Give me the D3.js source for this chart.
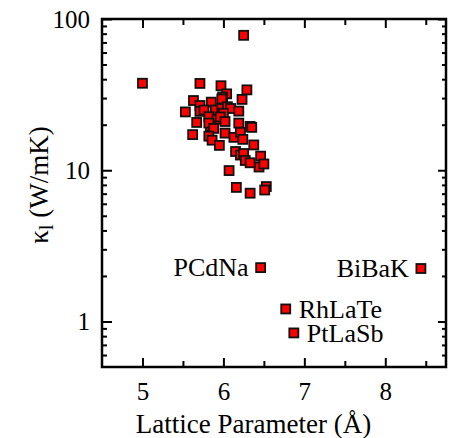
<!DOCTYPE html>
<html>
<head>
<meta charset="utf-8">
<script src="https://cdn.jsdelivr.net/npm/d3@7"></script>
<style>
  html, body { margin: 0; padding: 0; background: #fff; }
  text { font-family: "Liberation Serif", "Times New Roman", serif; fill: #000; }
</style>
</head>
<body>
<svg id="chart" width="449" height="438"></svg>
<script>
// unlabelled compounds: lattice parameter (Å) and kappa_l (W/mK)
const latticeParam = [
  6.25, 5.00, 5.71, 5.97, 6.04, 6.29, 5.99, 6.23, 5.63, 5.85,
  5.98, 5.53, 5.71, 5.71, 5.76, 5.90, 5.98, 6.05, 6.09, 6.19,
  5.82, 5.92, 6.00, 5.67, 5.84, 5.82, 5.88, 6.19, 6.33, 6.35,
  5.62, 5.82, 5.86, 5.95, 6.02, 6.13, 6.21, 6.24, 6.375, 6.15,
  6.21, 6.25, 6.27, 6.46, 6.44, 6.50, 6.33, 6.07, 6.16, 6.33,
  6.53, 6.51, 5.96, 6.02
];
const kappaL = [
  78, 37.6, 37.5, 36.2, 32, 34, 30.5, 29.4, 28.9, 28.2,
  29.6, 24.3, 26.8, 24.5, 25, 25, 25.6, 26.3, 25.6, 24.6,
  22.6, 21.7, 23.8, 20.7, 19.6, 20.5, 18.9, 20.5, 19.5, 19.2,
  17.2, 16.8, 15.8, 14.6, 17.6, 16.5, 17.8, 16, 14.7, 13.3,
  12.6, 12.9, 11.6, 12.4, 10.5, 11, 11.2, 9.95, 7.7, 7.05,
  7.8, 7.4, 22.5, 21.0
];

// labelled compounds
const labelNames = ["PCdNa", "BiBaK", "RhLaTe", "PtLaSb"];
const labelLattice = [6.46, 8.44, 6.77, 6.87];
const labelKappa = [2.27, 2.24, 1.21, 0.84];
const labelSide = ["left", "left", "right", "right"];

const xTicks = [5, 6, 7, 8];
const xMinorTicks = [5.5, 6.5, 7.5, 8.5];
const yTicks = [1, 10, 100];
const yMinorTicks = [0.6, 0.7, 0.8, 0.9, 2, 3, 4, 5, 6, 7, 8, 9, 20, 30, 40, 50, 60, 70, 80, 90];

let svg = d3.select("#chart");
let margin = { top: 19, bottom: 71, left: 102, right: 3 };
let width = 449 - margin.left - margin.right;
let height = 438 - margin.top - margin.bottom;

let plot = svg
  .append("g")
  .attr("transform", `translate(${margin.left},${margin.top})`);

let x = d3.scaleLinear().domain([4.5, 8.75]).range([0, width]);
let y = d3.scaleLog().domain([0.5, 100]).range([height, 0]);

function styleAxis(g, fontSize) {
  g.select(".domain").remove();
  g.selectAll(".tick line").attr("stroke", "#000").attr("stroke-width", 2);
  g.selectAll(".tick text")
    .attr("font-family", null)
    .style("font-size", fontSize + "px")
    .attr("fill", "#000");
}

// bottom axis, ticks pointing in
plot.append("g")
  .attr("transform", `translate(0,${height})`)
  .call(d3.axisBottom(x).tickValues(xTicks).tickSize(-9).tickPadding(15).tickFormat(d3.format("d")))
  .call(styleAxis, 25);
plot.append("g")
  .attr("transform", `translate(0,${height})`)
  .call(d3.axisBottom(x).tickValues(xMinorTicks).tickSize(-6).tickFormat(""))
  .call(styleAxis, 25);

// top axis mirror
plot.append("g")
  .call(d3.axisTop(x).tickValues(xTicks).tickSize(-9).tickFormat(""))
  .call(styleAxis, 25);
plot.append("g")
  .call(d3.axisTop(x).tickValues(xMinorTicks).tickSize(-6).tickFormat(""))
  .call(styleAxis, 25);

// left axis
plot.append("g")
  .call(d3.axisLeft(y).tickValues(yTicks).tickSize(-10).tickPadding(12).tickFormat(d3.format("d")))
  .call(styleAxis, 25);
plot.append("g")
  .call(d3.axisLeft(y).tickValues(yMinorTicks).tickSize(-5).tickFormat(""))
  .call(styleAxis, 25);

// right axis mirror
plot.append("g")
  .attr("transform", `translate(${width},0)`)
  .call(d3.axisRight(y).tickValues(yTicks).tickSize(-8).tickFormat(""))
  .call(styleAxis, 25);
plot.append("g")
  .attr("transform", `translate(${width},0)`)
  .call(d3.axisRight(y).tickValues(yMinorTicks).tickSize(-4).tickFormat(""))
  .call(styleAxis, 25);

// frame
plot.append("rect")
  .attr("x", 0)
  .attr("y", 0)
  .attr("width", width)
  .attr("height", height)
  .attr("fill", "none")
  .attr("stroke", "#000")
  .attr("stroke-width", 2.5);

// markers
let sq = 9;
let points = latticeParam.map((d, i) => ({ a: d, k: kappaL[i] }));

plot.selectAll(".pt")
  .data(points)
  .enter()
  .append("rect")
  .attr("class", "pt")
  .attr("x", (d) => x(d.a) - sq / 2)
  .attr("y", (d) => y(d.k) - sq / 2)
  .attr("width", sq)
  .attr("height", sq)
  .attr("fill", "#ff0000")
  .attr("stroke", "#111")
  .attr("stroke-width", 1.8);

let labelled = labelNames.map((n, i) => ({
  name: n, a: labelLattice[i], k: labelKappa[i], side: labelSide[i]
}));

plot.selectAll(".lpt")
  .data(labelled)
  .enter()
  .append("rect")
  .attr("class", "lpt")
  .attr("x", (d) => x(d.a) - sq / 2)
  .attr("y", (d) => y(d.k) - sq / 2)
  .attr("width", sq)
  .attr("height", sq)
  .attr("fill", "#ff0000")
  .attr("stroke", "#111")
  .attr("stroke-width", 1.8);

plot.selectAll(".lbl")
  .data(labelled)
  .enter()
  .append("text")
  .attr("class", "lbl")
  .attr("x", (d) => x(d.a) + (d.side === "left" ? -12 : 13))
  .attr("y", (d) => y(d.k))
  .attr("dy", "0.33em")
  .attr("text-anchor", (d) => (d.side === "left" ? "end" : "start"))
  .style("font-size", "26px")
  .text((d) => d.name);

// axis titles
svg.append("text")
  .attr("x", 253.5)
  .attr("y", 433)
  .attr("text-anchor", "middle")
  .style("font-size", "27px")
  .text("Lattice Parameter (Å)");

let yTitle = svg.append("text")
  .attr("transform", "translate(48,185) rotate(-90)")
  .attr("text-anchor", "middle")
  .style("font-size", "27px");
yTitle.append("tspan").text("κ");
yTitle.append("tspan").attr("dy", 5).style("font-size", "21px").text("l");
yTitle.append("tspan").attr("dy", -5).text(" (W/mK)");
</script>
</body>
</html>
